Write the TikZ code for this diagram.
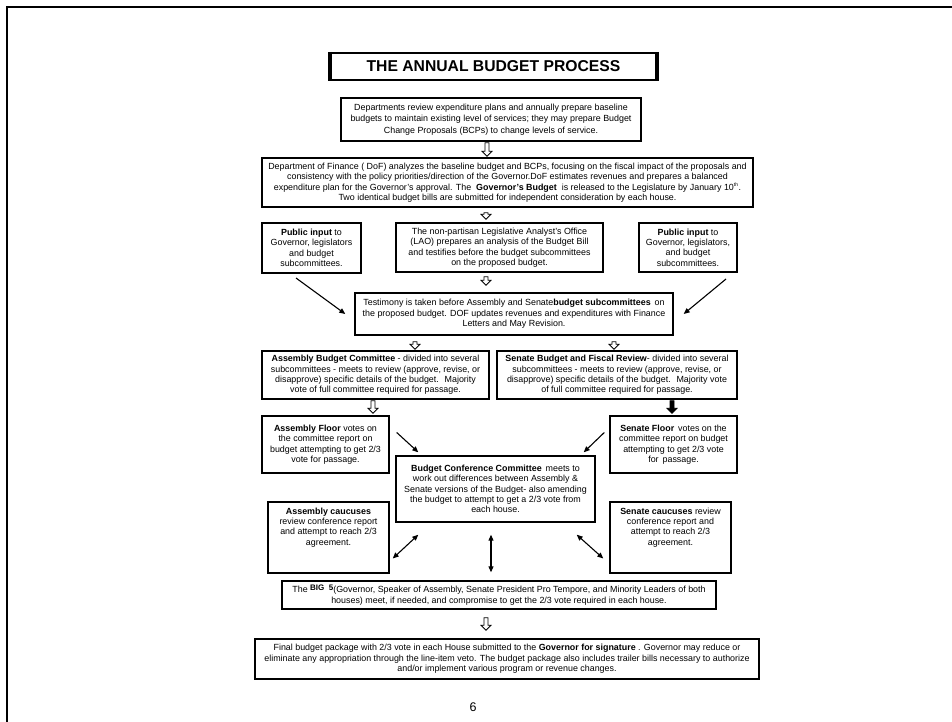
\documentclass[tikz,border=0pt]{standalone}
\usepackage{fontspec}
\setmainfont{Liberation Sans}
\usetikzlibrary{calc, positioning}
\usetikzlibrary{arrows.meta}

% hollow (or filled) block arrow pointing down, x taken from the start point
\newcommand{\blockarrow}[3][white]{%
  \draw[line width=0.8pt, fill=#1] let \p1=(#2), \p2=(#3) in
    (\x1-2pt,\y1) -- (\x1-2pt,\y2+5pt) -- (\x1-5pt,\y2+5pt) -- (\x1,\y2)
    -- (\x1+5pt,\y2+5pt) -- (\x1+2pt,\y2+5pt) -- (\x1+2pt,\y1) -- cycle;}

\begin{document}
\begin{tikzpicture}[x=1pt, y=-1pt,
  box/.style={draw, line width=1.4pt, align=center, inner sep=1pt,
    font=\fontsize{8.9}{10.4}\selectfont},
  diagarr/.style={line width=1.1pt, -{Triangle[length=6pt, width=5pt]}},
  dblarr/.style={line width=1.1pt, {Triangle[length=6pt, width=5pt]}-{Triangle[length=6pt, width=5pt]}}]
\useasboundingbox (0,0) rectangle (952,722);
% page edge
\draw[line width=1.6pt] (952,7) -- (7,7) -- (7,722);

% title
\node[draw, line width=2pt, minimum width=325pt, minimum height=27pt,
  font=\fontsize{15.7}{18}\selectfont\bfseries] (title) at (493.5,66.5) {THE ANNUAL BUDGET PROCESS};
\draw[line width=4pt] (title.north west) -- (title.south west);
\draw[line width=4pt] (title.north east) -- (title.south east);

% boxes
\node[box, minimum width=300pt, minimum height=43pt, font=\fontsize{8.9}{11.3}\selectfont] (dept) at (491,119.5)
  {Departments review expenditure plans and annually prepare baseline\\
   budgets to maintain existing level of services; they may prepare Budget\\
   Change Proposals (BCPs) to change levels of service.};
\node[box, minimum width=491pt, minimum height=49pt] (dof) at (507.5,182.5)
  {Department of Finance ( DoF) analyzes the baseline budget and BCPs, focusing on the fiscal impact of the proposals and\\
   consistency with the policy priorities/direction of the Governor.DoF estimates revenues and prepares a balanced\\
   expenditure plan for the Governor's approval. The \ \textbf{Governor's Budget} \ is released to the Legislature by January 10\textsuperscript{\tiny th}.\\
   Two identical budget bills are submitted for independent consideration by each house.};
\node[box, minimum width=99pt, minimum height=50pt] (publ) at (311.5,248)
  {\textbf{Public input} to\\ Governor, legislators\\ and budget\\ subcommittees.};
\node[box, minimum width=207pt, minimum height=49pt] (lao) at (499.5,247.5)
  {The non-partisan Legislative Analyst's Office\\
   (LAO) prepares an analysis of the Budget Bill\\
   and testifies before the budget subcommittees\\
   on the proposed budget.};
\node[box, minimum width=98pt, minimum height=49pt] (pubr) at (688,247.5)
  {\textbf{Public input} to\\ Governor, legislators,\\ and budget\\ subcommittees.};
\node[box, minimum width=318pt, minimum height=42pt] (testi) at (514,314)
  {Testimony is taken before Assembly and Senate\textbf{budget subcommittees} \,on\\
   the proposed budget. DOF updates revenues and expenditures with Finance\\
   Letters and May Revision.};
\node[box, minimum width=227pt, minimum height=48pt] (asmcom) at (375.5,375)
  {\textbf{Assembly Budget Committee} - divided into several\\
   subcommittees - meets to review (approve, revise, or\\
   disapprove) specific details of the budget. \ Majority\\
   vote of full committee required for passage.};
\node[box, minimum width=240pt, minimum height=48pt] (sencom) at (617,375)
  {\textbf{Senate Budget and Fiscal Review}- divided into several\\
   subcommittees - meets to review (approve, revise, or\\
   disapprove) specific details of the budget. \ Majority vote\\
   of full committee required for passage.};
\node[box, minimum width=127pt, minimum height=57pt] (asmfl) at (325.5,444.5)
  {\textbf{Assembly Floor} votes on\\ the committee report on\\ budget attempting to get 2/3\\ vote for passage.};
\node[box, minimum width=127pt, minimum height=57pt] (senfl) at (673.5,444.5)
  {\textbf{Senate Floor} \,votes on the\\ committee report on budget\\ attempting to get 2/3 vote\\ for \,passage.};
\node[box, minimum width=199pt, minimum height=66pt] (conf) at (495.5,489)
  {\textbf{Budget Conference Committee} \,meets to\\
   work out differences between Assembly \&\\
   Senate versions of the Budget- also amending\\
   the budget to attempt to get a 2/3 vote from\\
   each house.};
\node[box, minimum width=121pt, minimum height=71pt, text depth=22pt] (asmcau) at (328.5,537.5)
  {\textbf{Assembly caucuses}\\ review conference report\\ and attempt to reach 2/3\\ agreement.};
\node[box, minimum width=121pt, minimum height=71pt, text depth=22pt] (sencau) at (670.5,537.5)
  {\textbf{Senate caucuses} review\\ conference report and\\ attempt to reach 2/3\\ agreement.};
\node[box, minimum width=434pt, minimum height=28pt] (big5) at (499,595)
  {The \raisebox{2.5pt}{\fontsize{8}{8}\selectfont\textbf{BIG\ \ 5}}(Governor, Speaker of Assembly, Senate President Pro Tempore, and Minority Leaders of both\\
   houses) meet, if needed, and compromise to get the 2/3 vote required in each house.};
\node[box, minimum width=504pt, minimum height=40pt] (final) at (507,659)
  {Final budget package with 2/3 vote in each House submitted to the \textbf{Governor for signature} . Governor may reduce or\\
   eliminate any appropriation through the line-item veto. The budget package also includes trailer bills necessary to authorize\\
   and/or implement various program or revenue changes.};
\node[font=\fontsize{12.5}{14}\selectfont] (pnum) at (473,707) {6};

% block arrows
\blockarrow{[shift={(-4,1)}]dept.south}{[shift={(0,-1)}]dof.north}
\blockarrow{[shift={(-21.5,5)}]dof.south}{[shift={(0,-3)}]lao.north}
\blockarrow{[shift={(-13.5,4)}]lao.south}{[shift={(0,-7)}]testi.north}
\blockarrow{[shift={(-99,6)}]testi.south}{[shift={(0,-1)}]asmcom.north}
\blockarrow{[shift={(100,6)}]testi.south}{[shift={(0,-1)}]sencom.north}
\blockarrow{[shift={(-2.5,1)}]asmcom.south}{[shift={(0,-2)}]asmfl.north}
\blockarrow[black]{[shift={(55,1)}]sencom.south}{[shift={(0,-2)}]senfl.north}
\blockarrow{[shift={(-13,8)}]big5.south}{[shift={(0,-8)}]final.north}

% free connectors
\coordinate (pl) at (296,278);
\coordinate (pr) at (726,279);
\draw[diagarr] (pl) -- ([shift={(-9,0)}]testi.west);
\draw[diagarr] (pr) -- ([shift={(10,0)}]testi.east);
\draw[diagarr] ([shift={(7,-12)}]asmfl.east) -- ([shift={(23,-3)}]conf.north west);
\draw[diagarr] ([shift={(-5,-12)}]senfl.west) -- ([shift={(-12,-3)}]conf.north east);
\draw[dblarr] ([shift={(3,21)}]asmcau.east) -- ([shift={(23,12)}]conf.south west);
\draw[dblarr] ([shift={(-4.5,12)}]conf.south) -- ([shift={(-8,-8)}]big5.north);
\draw[dblarr] ([shift={(-19,12)}]conf.south east) -- ([shift={(-6,21)}]sencau.west);
\end{tikzpicture}
\end{document}
